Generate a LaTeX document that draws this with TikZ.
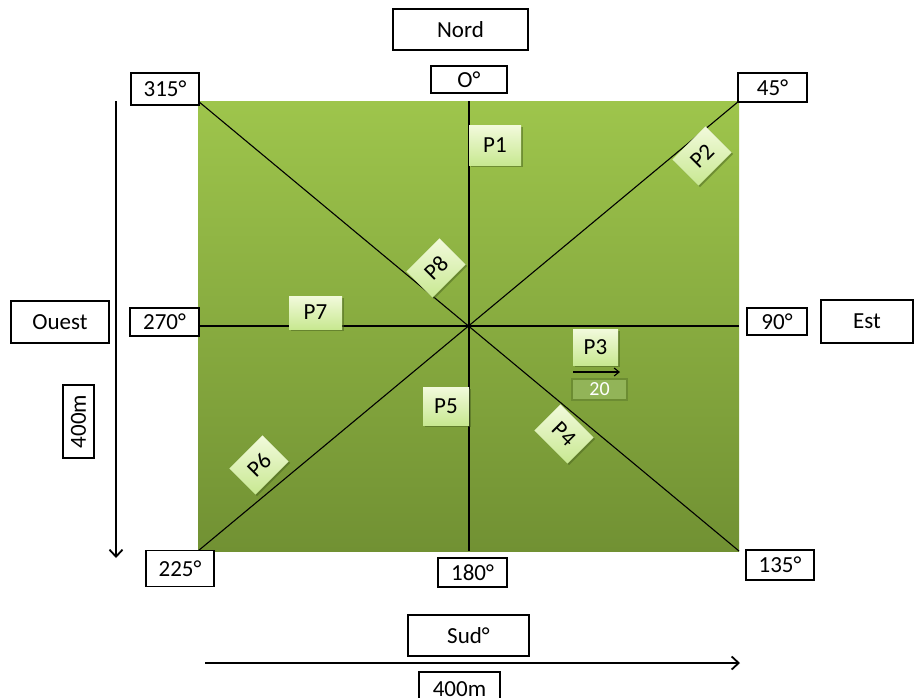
\documentclass[tikz,border=0pt]{standalone}
\usepackage{fontspec}
\setmainfont{Carlito}
\usetikzlibrary{arrows.meta,shadows}
\begin{document}
\begin{tikzpicture}[x=1pt,y=-1pt,
  lbl/.style={draw=black,line width=1.8pt,fill=white,inner sep=0pt,font=\fontsize{23}{26}\selectfont},
  pbox/.style={inner sep=0pt,font=\fontsize{23}{26}\selectfont,
    top color={rgb,255:red,242;green,250;blue,220},bottom color={rgb,255:red,200;green,232;blue,145},
    drop shadow={shadow xshift=1.5pt,shadow yshift=-1.5pt,fill={rgb,255:red,70;green,95;blue,30},opacity=0.5}},
  ray/.style={line width=1.1pt,black},
  bigarrow/.style={line width=1.8pt,-{Straight Barb[length=7pt,width=13pt,line width=1.8pt]}}
]
\useasboundingbox (0,0) rectangle (914,697);
% field
\coordinate (nw) at (198,101);
\coordinate (ne) at (739,101);
\coordinate (se) at (739,551);
\coordinate (sw) at (198,551);
\coordinate (C) at (469,326);
\coordinate (N) at (469,101);
\coordinate (S) at (469,551);
\coordinate (W) at (198,326);
\coordinate (E) at (739,326);
\shade[top color={rgb,255:red,158;green,197;blue,76},bottom color={rgb,255:red,113;green,145;blue,51}] (nw) rectangle (se);
\draw[ray] (N) -- (S);
\draw[ray] (W) -- (E);
\draw[ray] (nw) -- (se);
\draw[ray] (ne) -- (sw);
% label boxes
\node[lbl,minimum width=135pt,minimum height=41pt] (nord) at (460.5,29.5) {Nord};
\node[lbl,minimum width=76pt,minimum height=27pt] (d0) at (469,79.5) {O°};
\node[lbl,minimum width=68pt,minimum height=32pt] (d315) at (165,89) {315°};
\node[lbl,minimum width=69pt,minimum height=29pt] (d45) at (772.5,87.5) {45°};
\node[lbl,minimum width=69pt,minimum height=28pt] (d270) at (164.5,322) {270°};
\node[lbl,minimum width=98pt,minimum height=42pt] (ouest) at (60,322) {Ouest};
\node[lbl,minimum width=60pt,minimum height=27pt] (d90) at (777,321.5) {90°};
\node[lbl,minimum width=92pt,minimum height=43pt] (est) at (867,321.5) {Est};
\node[lbl,minimum width=68pt,minimum height=36pt] (d225) at (180,568.5) {225°};
\node[lbl,minimum width=69pt,minimum height=29pt] (d180) at (472.5,572.5) {180°};
\node[lbl,minimum width=68pt,minimum height=30pt] (d135) at (780,565) {135°};
\node[lbl,minimum width=121pt,minimum height=41pt] (sud) at (468.5,635.5) {Sud°};
\node[lbl,minimum width=81pt,minimum height=34pt] (mb) at (459.5,689) {400m};
\node[lbl,minimum width=73pt,minimum height=31pt,rotate=90] (ml) at (78.5,421.5) {400m};
% scale arrows
\coordinate (la) at (116,101);
\coordinate (lb) at (116,558);
\coordinate (ba) at (205,663);
\coordinate (bb) at (740,663);
\draw[bigarrow] (la) -- (lb);
\draw[bigarrow] (ba) -- (bb);
% P boxes
\node[pbox,minimum width=52pt,minimum height=40pt] (p1) at (495,145) {P1};
\node[pbox,minimum width=47pt,minimum height=37pt,rotate=45] (p2) at (702,156) {P2};
\node[pbox,minimum width=45pt,minimum height=36pt] (p3) at (595.5,347) {P3};
\node[pbox,minimum width=47pt,minimum height=37pt,rotate=-45] (p4) at (564,434) {P4};
\node[pbox,minimum width=46pt,minimum height=38pt] (p5) at (446,406) {P5};
\node[pbox,minimum width=47pt,minimum height=37pt,rotate=45] (p6) at (259,465) {P6};
\node[pbox,minimum width=53pt,minimum height=33pt] (p7) at (315.5,312.5) {P7};
\node[pbox,minimum width=47pt,minimum height=37pt,rotate=45] (p8) at (436,268) {P8};
% speed
\coordinate (sa) at (573,372);
\coordinate (sb) at (620,372);
\draw[line width=1.1pt,-{Straight Barb[length=5pt,width=8pt,line width=1.1pt]}] (sa) -- (sb);
\node[draw={rgb,255:red,108;green,140;blue,50},line width=1.5pt,fill={rgb,255:red,146;green,180;blue,88},
  text=white,inner sep=0pt,minimum width=55pt,minimum height=21pt,font=\fontsize{20}{22}\selectfont] (v20) at (599.5,389.5) {20};
\end{tikzpicture}
\end{document}
